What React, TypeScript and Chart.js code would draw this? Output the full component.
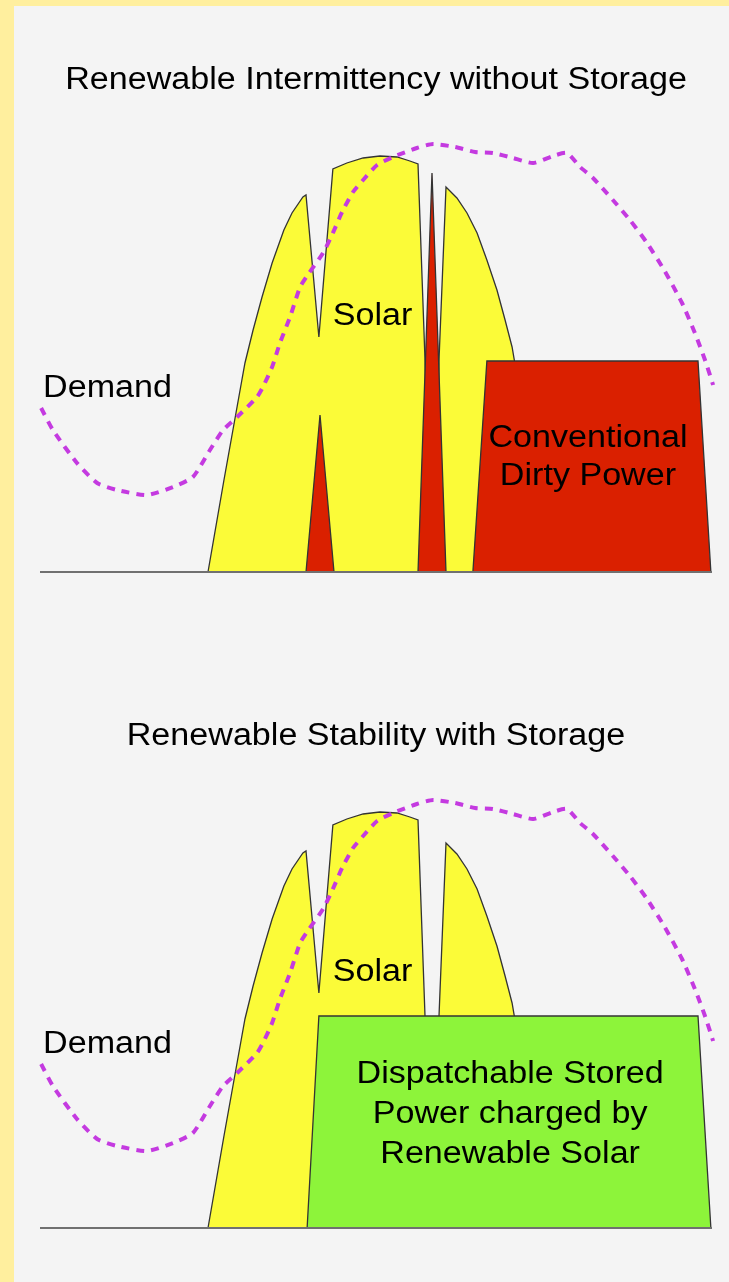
import React, { useEffect, useRef } from 'react';
import { Chart, registerables } from 'chart.js';

Chart.register(...registerables);

// ---- Data (x = hour of day, y = power, arbitrary units 0-100) ----
const DEMAND_HOURS = [0.04, 0.46, 1.32, 2.04, 2.75, 3.82, 4.75, 5.46, 6.07, 6.54, 7.04, 7.75, 7.96, 8.29, 8.57, 8.93, 9.29, 9.61, 10.11, 10.46, 10.79, 11.18, 11.54, 12.04, 12.61, 13.46, 14.04, 14.82, 15.54, 16.18, 16.89, 17.61, 18.32, 18.82, 19.29, 19.75, 20.46, 21.07, 21.68, 22.29, 22.93, 23.39, 23.75, 24.04];
const DEMAND_LOAD = [32.8, 28.4, 21.8, 17.8, 16.4, 15.4, 17.0, 19.0, 24.4, 28.4, 31.0, 35.0, 37.0, 41.0, 45.8, 51.0, 57.0, 59.8, 63.8, 67.8, 72.0, 76.0, 78.4, 81.4, 83.0, 84.8, 85.6, 85.0, 84.0, 83.8, 82.8, 81.8, 83.2, 83.8, 81.0, 78.8, 74.4, 70.4, 65.8, 60.4, 53.8, 47.8, 42.4, 37.4];

// Solar output, morning/midday block (two lobes joined at a cloud notch)
const SOLAR_MIDDAY_HOURS = [6.0, 6.57, 7.21, 7.32, 7.61, 7.93, 8.29, 8.71, 9.0, 9.39, 9.5, 9.96, 10.46, 10.96, 11.54, 12.14, 12.75, 13.21, 13.5, 13.75, 13.93];
const SOLAR_MIDDAY_OUTPUT = [0, 18.4, 38.4, 41.8, 48.4, 55.0, 61.8, 68.4, 71.8, 75.0, 75.4, 47.0, 80.6, 81.8, 82.8, 83.2, 83.0, 82.2, 81.6, 42.4, 0];

// Solar output, afternoon lobe
const SOLAR_AFTERNOON_HOURS = [14.14, 14.25, 14.5, 14.89, 15.25, 15.61, 15.96, 16.32, 16.61, 16.86, 17.0, 17.29, 17.57, 17.75];
const SOLAR_AFTERNOON_OUTPUT = [0, 42.4, 77.0, 74.8, 71.8, 67.8, 62.4, 56.4, 50.4, 45.0, 40.4, 28.4, 14.4, 0];

// Conventional backup filling cloud dips
const DIP1_HOURS = [9.5, 10.0, 10.5];
const DIP1_OUTPUT = [0, 31.4, 0];
const DIP2_HOURS = [13.5, 14.0, 14.5];
const DIP2_OUTPUT = [0, 79.8, 0];

// Conventional dirty power (evening)
const CONVENTIONAL_HOURS = [15.46, 15.96, 23.5, 23.96];
const CONVENTIONAL_OUTPUT = [0, 42.2, 42.2, 0];

// Dispatchable stored power
const STORED_HOURS = [9.54, 9.96, 23.5, 23.96];
const STORED_OUTPUT = [0, 42.4, 42.4, 0];

const TITLE_WITHOUT = 'Renewable Intermittency without Storage';
const TITLE_WITH = 'Renewable Stability with Storage';

// ---- Styles ----
const YELLOW = '#FBFB38';
const RED = '#DA2000';
const GREEN = '#8DF43A';
const DEMAND_COLOR = '#C43AE0';
const OUTLINE = '#333333';
const BASELINE = '#707070';
const TEXT = '#000000';
const FONT = '31px "Liberation Sans", Arial, Helvetica, sans-serif';
const STRETCH = 1.1;

type Pt = { x: number; y: number };
const zip = (xs: number[], ys: number[]): Pt[] => xs.map((x, i) => ({ x, y: ys[i] }));

type Label = { text: string; x: number; y: number; align: CanvasTextAlign };

const shape = (label: string, xs: number[], ys: number[], color: string, order: number) => ({
  label,
  data: zip(xs, ys),
  backgroundColor: color,
  borderColor: OUTLINE,
  borderWidth: 1.3,
  fill: 'origin',
  order,
  pointRadius: 0,
  tension: 0,
  clip: false,
});

function PowerChart({ withStorage, height, bottomPad }: { withStorage: boolean; height: number; bottomPad: number }) {
  const ref = useRef<HTMLCanvasElement | null>(null);

  useEffect(() => {
    if (!ref.current) return;

    const datasets: any[] = [
      {
        label: 'Demand',
        data: zip(DEMAND_HOURS, DEMAND_LOAD),
        borderColor: DEMAND_COLOR,
        borderWidth: 4,
        borderDash: [8, 7],
        borderCapStyle: 'butt',
        fill: false,
        order: 0,
        pointRadius: 0,
        tension: 0.2,
        clip: false,
      },
      shape('Solar', SOLAR_MIDDAY_HOURS, SOLAR_MIDDAY_OUTPUT, YELLOW, 6),
      shape('Solar afternoon', SOLAR_AFTERNOON_HOURS, SOLAR_AFTERNOON_OUTPUT, YELLOW, 6),
    ];
    if (withStorage) {
      datasets.push(shape('Dispatchable Stored Power', STORED_HOURS, STORED_OUTPUT, GREEN, 3));
    } else {
      datasets.push(shape('Backup 1', DIP1_HOURS, DIP1_OUTPUT, RED, 4));
      datasets.push(shape('Backup 2', DIP2_HOURS, DIP2_OUTPUT, RED, 4));
      datasets.push(shape('Conventional Dirty Power', CONVENTIONAL_HOURS, CONVENTIONAL_OUTPUT, RED, 3));
    }

    const labels: Label[] = [
      { text: 'Demand', x: 0.11, y: 35, align: 'left' },
      { text: 'Solar', x: 11.88, y: 49.4, align: 'center' },
    ];
    if (withStorage) {
      labels.push({ text: 'Dispatchable Stored', x: 16.79, y: 29, align: 'center' });
      labels.push({ text: 'Power charged by', x: 16.79, y: 21, align: 'center' });
      labels.push({ text: 'Renewable Solar', x: 16.79, y: 13, align: 'center' });
    } else {
      labels.push({ text: 'Conventional', x: 19.57, y: 25, align: 'center' });
      labels.push({ text: 'Dirty Power', x: 19.57, y: 17.4, align: 'center' });
    }
    const title = withStorage ? TITLE_WITH : TITLE_WITHOUT;

    const drawText = (ctx: CanvasRenderingContext2D, t: string, x: number, y: number, align: CanvasTextAlign) => {
      ctx.save();
      ctx.translate(x, y);
      ctx.scale(STRETCH, 1);
      ctx.font = FONT;
      ctx.fillStyle = TEXT;
      ctx.textAlign = align;
      ctx.textBaseline = 'alphabetic';
      ctx.fillText(t, 0, 0);
      ctx.restore();
    };

    const textPlugin = {
      id: 'panelText',
      afterDatasetsDraw(chart: any) {
        const { ctx, chartArea, scales } = chart;
        const y0 = scales.y.getPixelForValue(0);
        ctx.save();
        ctx.strokeStyle = BASELINE;
        ctx.lineWidth = 2;
        ctx.beginPath();
        ctx.moveTo(chartArea.left, y0);
        ctx.lineTo(chartArea.right, y0);
        ctx.stroke();
        ctx.restore();
        drawText(ctx, title, (chartArea.left + chartArea.right) / 2, chartArea.top + 17, 'center');
        for (const l of labels) {
          drawText(ctx, l.text, scales.x.getPixelForValue(l.x), scales.y.getPixelForValue(l.y), l.align);
        }
      },
    };

    const chart = new Chart(ref.current, {
      type: 'line',
      data: { datasets },
      options: {
        responsive: false,
        devicePixelRatio: 1,
        animation: false,
        events: [],
        layout: { padding: { left: 40, right: 17, top: 72, bottom: bottomPad } },
        scales: {
          x: { type: 'linear', min: 0, max: 24, display: false },
          y: { type: 'linear', min: 0, max: 100, display: false },
        },
        plugins: {
          legend: { display: false },
          tooltip: { enabled: false },
          title: { display: false },
        },
        elements: { point: { radius: 0 }, line: { tension: 0 } },
      } as any,
      plugins: [textPlugin],
    });
    return () => chart.destroy();
  }, [withStorage, height, bottomPad]);

  return <canvas ref={ref} width={729} height={height} style={{ display: 'block', width: 729, height }} />;
}

export default function App() {
  return (
    <div style={{ position: 'fixed', left: 0, top: 0, width: 729, height: 1282, background: '#FFEF9E', overflow: 'hidden' }}>
      <div style={{ position: 'absolute', left: 14, top: 6, right: 0, bottom: 0, background: '#F4F4F4' }} />
      <div style={{ position: 'absolute', left: 0, top: 0 }}>
        <PowerChart withStorage={false} height={656} bottomPad={84} />
      </div>
      <div style={{ position: 'absolute', left: 0, top: 656 }}>
        <PowerChart withStorage={true} height={626} bottomPad={54} />
      </div>
    </div>
  );
}
